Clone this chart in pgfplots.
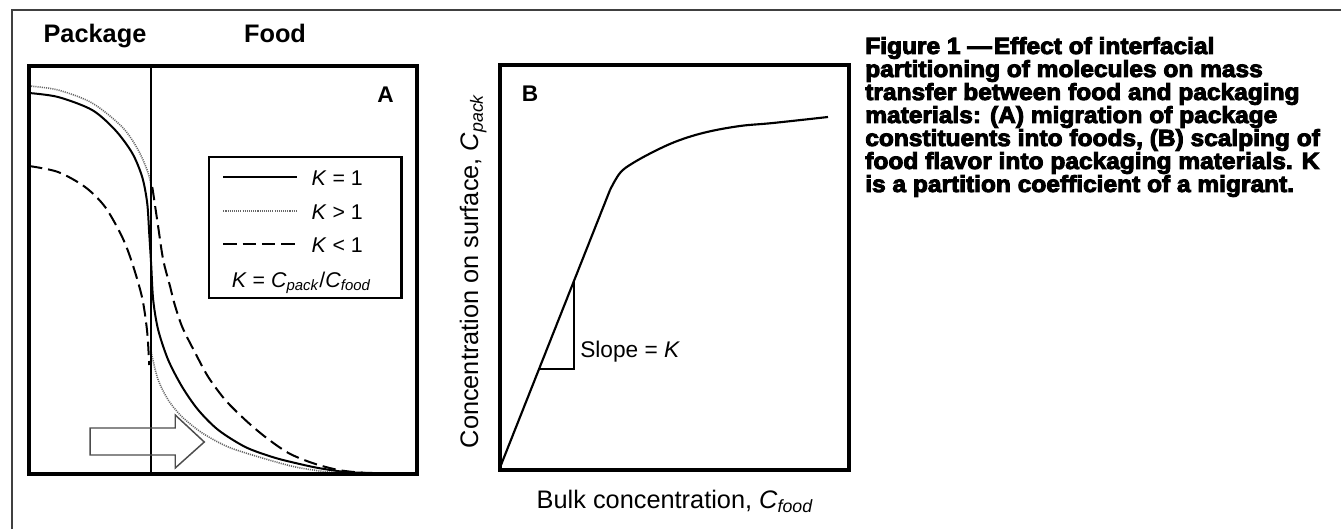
\documentclass[border=0pt]{standalone}
\usepackage{pgfplots}
\pgfplotsset{compat=1.18}
\usepackage{fontspec}
\setmainfont{Liberation Sans}
\newfontfamily\capfont[FakeStretch=1.05,FakeBold=4]{Liberation Sans Bold}

\begin{document}
\begin{tikzpicture}[x=0.75pt,y=0.75pt]
\path[use as bounding box] (0,0) rectangle (1341,529);
\draw[line width=1pt, black!75] (12,0) -- (12,519) -- (1341,519);

% ---------------- Panel A ----------------
\begin{axis}[at={(29,55)}, anchor=south west, scale only axis,
  width=291pt, height=306pt,
  xmin=29, xmax=417, ymin=55, ymax=463,
  ticks=none, axis line style={draw=none}]
% K = 1 (solid)
\addplot[line width=1.5pt, smooth, tension=0.5] coordinates {
 (29,436) (58,432) (92,419) (115,399) (132,376) (142,352) (147,326)
 (149,296) (151,264) (153,229) (158,199) (168,169) (182,142) (198,119)
 (218,99) (245,82) (272,72) (295,66) (318,61) (345,57) (372,56) (395,55)};
% K > 1 (dotted), package side
\addplot[line width=1.2pt, black!60, dash pattern=on 0.8pt off 0.8pt, smooth, tension=0.5] coordinates {
 (29,443) (58,439) (92,426) (122,402) (138,379) (148,356) (151,342)};
% K > 1 (dotted), food side
\addplot[line width=1.2pt, black!60, dash pattern=on 0.8pt off 0.8pt, smooth, tension=0.5] coordinates {
 (151,177) (152,172) (158,149) (168,129) (182,112) (202,96) (228,82)
 (262,71) (295,62) (328,57) (352,56) (380,55)};
% K < 1 (dashed), package side
\addplot[line width=1.5pt, dash pattern=on 10pt off 4.5pt, smooth, tension=0.5] coordinates {
 (29,363) (58,357) (85,342) (105,322) (122,292) (132,266) (142,231)
 (147,197) (149,164)};
% K < 1 (dashed), food side
\addplot[line width=1.5pt, dash pattern=on 10pt off 4.5pt, smooth, tension=0.5] coordinates {
 (152,342) (153,336) (158,302) (163,269) (170,242) (174,226) (182,202)
 (195,176) (208,152) (225,129) (245,109) (265,92) (288,76) (312,66)
 (338,59) (365,56) (390,55)};
% interface
\draw[line width=1.7pt] (151,55) -- (151,463);
% arrow
\draw[line width=1.1pt, black!70] (90,101) -- (175,101) -- (175,114) -- (204,87)
  -- (175,61) -- (175,74) -- (90,74) -- cycle;
% legend
\draw[line width=1.6pt] (209,372) rectangle (401,231);
\draw[line width=1.5pt] (223,352) -- (297,352);
\draw[line width=1.2pt, black!60, dash pattern=on 0.8pt off 0.8pt] (223,318) -- (297,318);
\draw[line width=1.5pt, dash pattern=on 10pt off 4.5pt] (223,285) -- (297,285);
\node[anchor=base west, inner sep=0, font=\fontsize{16}{18}\selectfont] at (311,343) {\textit{K} = 1};
\node[anchor=base west, inner sep=0, font=\fontsize{16}{18}\selectfont] at (311,309) {\textit{K} > 1};
\node[anchor=base west, inner sep=0, font=\fontsize{16}{18}\selectfont] at (311,277) {\textit{K} < 1};
\node[anchor=base, inner sep=0, font=\fontsize{16}{18}\selectfont] at (301,242)
  {\textit{K} = \textit{C}\textsubscript{\textit{pack}}/\textit{C}\textsubscript{\textit{food}}};
\node[anchor=base, inner sep=0, font=\bfseries\fontsize{17}{20}\selectfont] at (385,426) {A};
\end{axis}
\draw[line width=2.6pt] (29,55) rectangle (417,463);

\node[anchor=base, inner sep=0, font=\bfseries\fontsize{19}{22}\selectfont] at (95,486) {Package};
\node[anchor=base, inner sep=0, font=\bfseries\fontsize{19}{22}\selectfont] at (275,486) {Food};

% ---------------- Panel B ----------------
\begin{axis}[at={(500,59)}, anchor=south west, scale only axis,
  width=261.75pt, height=303.75pt,
  xmin=500, xmax=849, ymin=59, ymax=464,
  ticks=none, axis line style={draw=none}]
\addplot[line width=1.6pt] coordinates {(501,64) (610,339)};
\addplot[line width=1.6pt, smooth, tension=0.6] coordinates {
 (610,339) (620,356) (633,366) (657,379) (680,389) (707,397) (740,403)
 (773,406) (828,412)};
\draw[line width=0.9pt] (540,160) -- (574,160) -- (574,248);
\node[anchor=base west, inner sep=0, font=\fontsize{17}{20}\selectfont] at (580,172) {Slope = \textit{K}};
\node[anchor=base, inner sep=0, font=\bfseries\fontsize{17}{20}\selectfont] at (530,427) {B};
\end{axis}
\draw[line width=2.6pt] (500,59) rectangle (849,464);
\node[anchor=base, inner sep=0, rotate=90, font=\fontsize{19}{22}\selectfont] at (478,258)
  {Concentration on surface, \textit{C}\textsubscript{\textit{pack}}};
\node[anchor=base, inner sep=0, font=\fontsize{19}{22}\selectfont] at (675,21)
  {Bulk concentration, \textit{C}\textsubscript{\textit{food}}};

% ---------------- Caption ----------------
\begin{scope}[every node/.style={anchor=base west, inner sep=0, font=\capfont\fontsize{17.5}{17}\selectfont}]
\node at (865,475) {Figure 1 —\hspace{1.5pt}Effect of interfacial};
\node at (865,452) {partitioning of molecules on mass};
\node at (865,429) {transfer between food and packaging};
\node at (865,406) {materials: (A) migration of package};
\node at (865,383) {constituents into foods, (B) scalping of};
\node at (865,360) {food flavor into packaging materials. K};
\node at (865,337) {is a partition coefficient of a migrant.};
\end{scope}
\end{tikzpicture}
\end{document}
